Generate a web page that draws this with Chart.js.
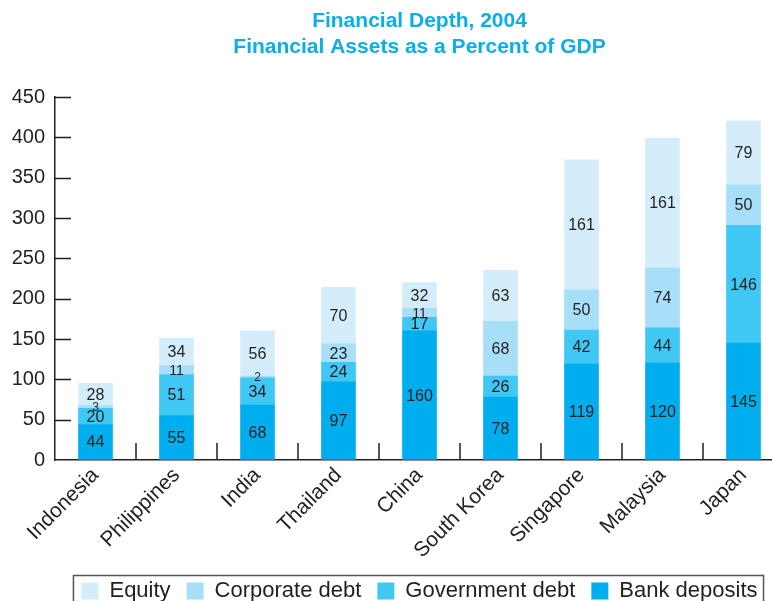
<!DOCTYPE html>
<html>
<head>
<meta charset="utf-8">
<script src="https://cdn.jsdelivr.net/npm/chart.js@4/dist/chart.umd.min.js"></script>
<style>
  html, body { margin: 0; padding: 0; background: #fff; overflow: hidden; }
  #wrap { width: 784px; height: 612px; }
</style>
</head>
<body>
<div id="wrap"><canvas id="depthChart"></canvas></div>
<script>
const countries = ['Indonesia', 'Philippines', 'India', 'Thailand', 'China', 'South Korea', 'Singapore', 'Malaysia', 'Japan'];
const bankDeposits = [44, 55, 68, 97, 160, 78, 119, 120, 145];
const governmentDebt = [20, 51, 34, 24, 17, 26, 42, 44, 146];
const corporateDebt = [3, 11, 2, 23, 11, 68, 50, 74, 50];
const equity = [28, 34, 56, 70, 32, 63, 161, 161, 79];
const yTicks = [0, 50, 100, 150, 200, 250, 300, 350, 400, 450];

const ink = '#231f20';
const sans = '"Liberation Sans", Arial, sans-serif';

// value labels in the middle of each segment, smaller on the thin ones
const segmentLabels = {
    id: 'segmentLabels',
    afterDatasetsDraw(chart) {
        const ctx = chart.ctx;
        ctx.save();
        ctx.fillStyle = ink;
        ctx.textAlign = 'center';
        ctx.textBaseline = 'middle';
        chart.data.datasets.forEach((ds, di) => {
            chart.getDatasetMeta(di).data.forEach((bar, i) => {
                const v = ds.data[i];
                const size = v < 10 ? 12 : (v < 15 ? 14 : 16);
                ctx.font = size + 'px ' + sans;
                ctx.fillText(String(v), bar.x, (bar.y + bar.base) / 2 + 1);
            });
        });
        ctx.restore();
    }
};

// inward ticks on the y axis, separators on the x axis, box round the legend
const axisMarks = {
    id: 'axisMarks',
    afterDraw(chart) {
        const ctx = chart.ctx;
        const x = chart.scales.x, y = chart.scales.y;
        const area = chart.chartArea;
        ctx.save();
        ctx.strokeStyle = ink;
        ctx.lineWidth = 1.5;
        ctx.beginPath();
        yTicks.forEach(v => {
            if (v === 0) return;
            const py = Math.round(y.getPixelForValue(v)) + 0.5;
            ctx.moveTo(area.left, py);
            ctx.lineTo(area.left + 16, py);
        });
        for (let i = 0; i < countries.length - 1; i++) {
            const px = Math.round((x.getPixelForValue(i) + x.getPixelForValue(i + 1)) / 2);
            ctx.moveTo(px, area.bottom);
            ctx.lineTo(px, area.bottom - 17);
        }
        ctx.stroke();

        const boxes = chart.legend.legendHitBoxes;
        if (boxes && boxes.length) {
            const first = boxes[0], last = boxes[boxes.length - 1];
            const left = first.left - 8;
            const right = last.left + last.width + 6;
            ctx.lineWidth = 1.5;
            ctx.strokeStyle = '#555';
            ctx.strokeRect(left, chart.legend.top + 11.5, right - left, 60);
        }
        ctx.restore();
    }
};

new Chart(document.getElementById('depthChart'), {
    type: 'bar',
    data: {
        labels: countries,
        datasets: [
            { label: 'Bank deposits', data: bankDeposits, backgroundColor: '#00aeef' },
            { label: 'Government debt', data: governmentDebt, backgroundColor: '#40c7f4' },
            { label: 'Corporate debt', data: corporateDebt, backgroundColor: '#a7def8' },
            { label: 'Equity', data: equity, backgroundColor: '#d4edfa' }
        ]
    },
    options: {
        responsive: true,
        maintainAspectRatio: false,
        animation: false,
        layout: { padding: 0 },
        datasets: { bar: { barThickness: 34 } },
        plugins: {
            title: {
                display: true,
                fullSize: false,
                text: ['Financial Depth, 2004', 'Financial Assets as a Percent of GDP'],
                color: '#0aaee9',
                font: { family: sans, size: 21, weight: 'bold', lineHeight: 26 / 21 },
                padding: { top: 8, bottom: 37 }
            },
            legend: {
                position: 'bottom',
                fullSize: false,
                reverse: true,
                labels: {
                    color: ink,
                    boxWidth: 17,
                    boxHeight: 17,
                    padding: 16,
                    font: { family: sans, size: 22 }
                }
            },
            tooltip: { enabled: false }
        },
        scales: {
            x: {
                stacked: true,
                grid: { display: true, drawOnChartArea: false, drawTicks: false },
                border: { color: ink, width: 1.5 },
                ticks: {
                    color: ink,
                    autoSkip: false,
                    maxRotation: 45,
                    minRotation: 45,
                    padding: 3,
                    font: { family: sans, size: 21 }
                },
                afterFit(scale) { scale.height = 104; }
            },
            y: {
                stacked: true,
                min: 0,
                max: 450,
                grid: { display: true, drawOnChartArea: false, drawTicks: false },
                border: { color: ink, width: 1.5 },
                ticks: {
                    stepSize: 50,
                    color: ink,
                    padding: 10,
                    font: { family: sans, size: 20 }
                },
                afterFit(scale) { scale.width = 55; }
            }
        }
    },
    plugins: [segmentLabels, axisMarks]
});
</script>
</body>
</html>
